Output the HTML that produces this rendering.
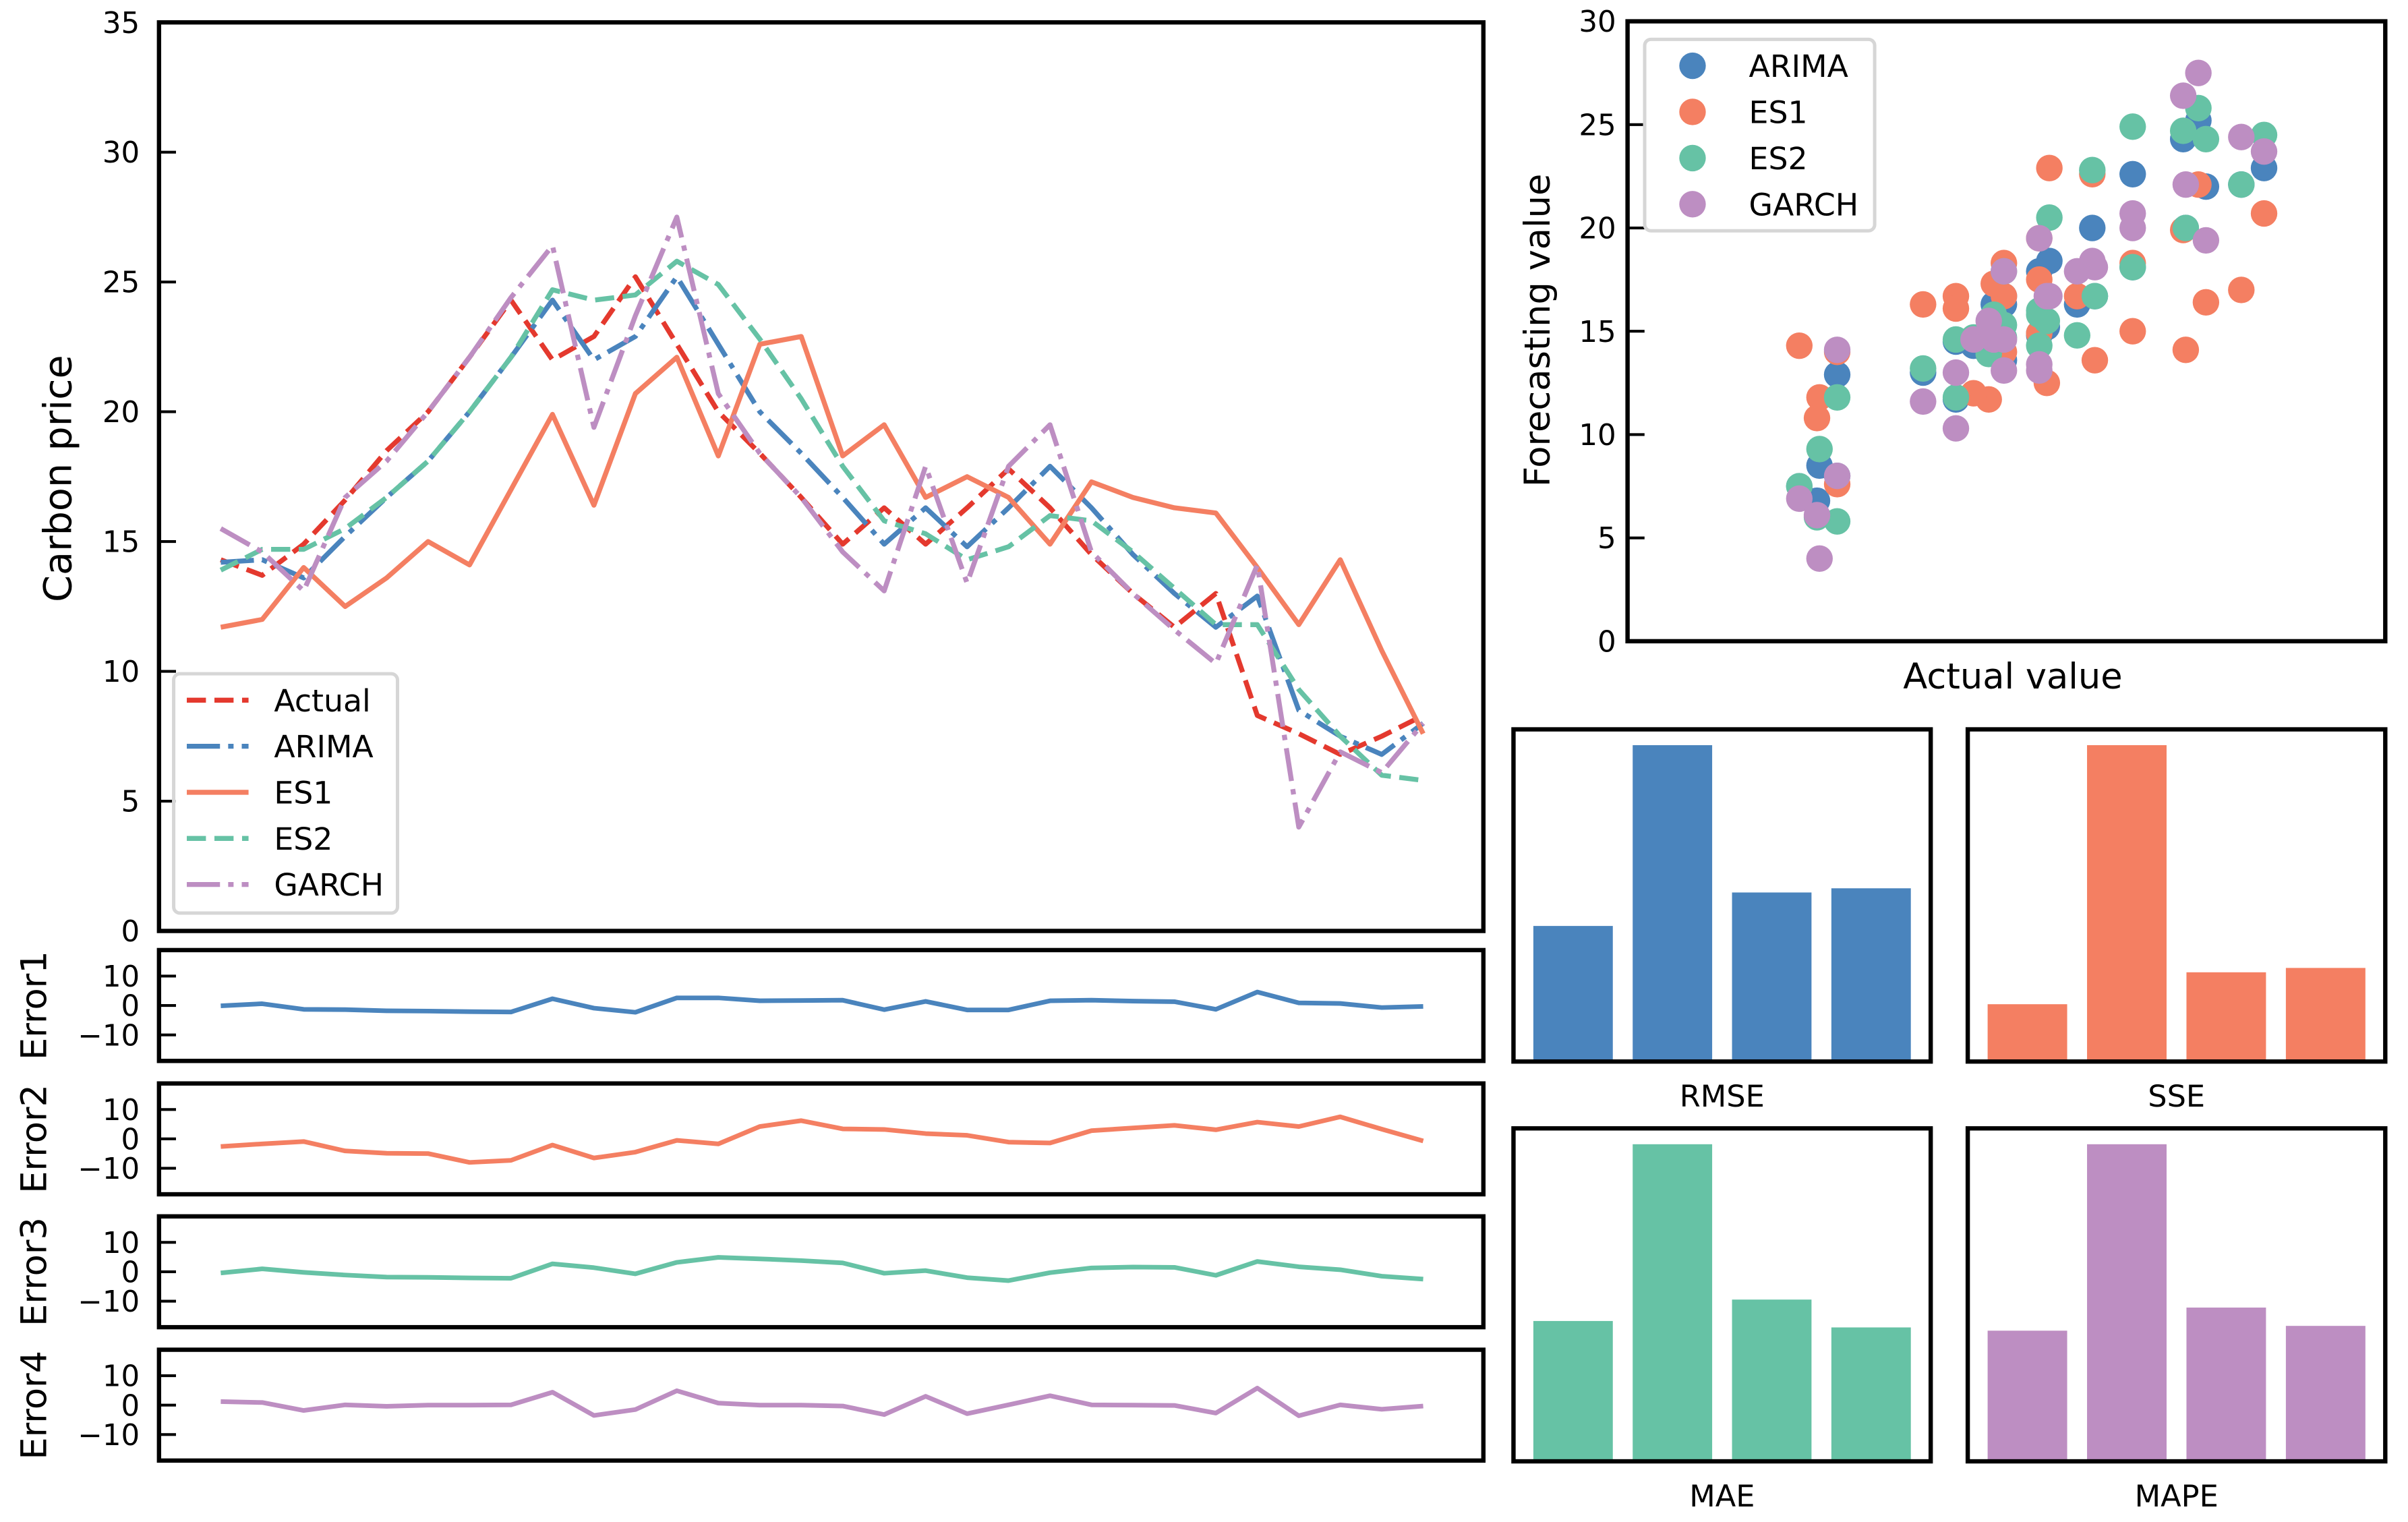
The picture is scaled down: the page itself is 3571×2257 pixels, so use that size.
<!DOCTYPE html>
<html><head><meta charset="utf-8"><style>
html,body{margin:0;padding:0;background:#fff;}
svg{display:block;font-family:"DejaVu Sans","Liberation Sans",sans-serif;}
</style></head><body>
<svg id="fig" xmlns="http://www.w3.org/2000/svg" width="3571" height="2257" viewBox="0 0 1560 986">
<rect x="0" y="0" width="1560" height="986" fill="#fff"/>
</svg>
<script>
// ---- data ----
const actual = [14.3,13.7,14.9,16.6,18.5,20.0,22.1,24.3,22.0,22.9,25.2,22.6,20.0,18.4,16.7,14.9,16.3,14.9,16.3,17.8,16.3,14.5,13.0,11.7,13.0,8.3,7.6,6.8,7.5,8.3];
const arima  = [14.2,14.3,13.6,15.2,16.7,18.1,20.0,22.1,24.3,22.0,22.9,25.2,22.6,20.0,18.4,16.7,14.9,16.3,14.8,16.3,17.9,16.3,14.5,13.0,11.7,12.9,8.5,7.5,6.8,8.0];
const es1    = [11.7,12.0,14.0,12.5,13.6,15.0,14.1,17.0,19.9,16.4,20.7,22.1,18.3,22.6,22.9,18.3,19.5,16.7,17.5,16.7,14.9,17.3,16.7,16.3,16.1,14.0,11.8,14.3,10.8,7.6];
const es2    = [13.9,14.7,14.7,15.5,16.7,18.1,20.0,22.1,24.7,24.3,24.5,25.8,24.9,22.8,20.5,17.9,15.8,15.3,14.3,14.8,16.0,15.8,14.6,13.2,11.8,11.8,9.3,7.5,6.0,5.8];
const garch  = [15.5,14.6,13.1,16.7,18.1,20.0,22.1,24.4,26.4,19.4,23.7,27.5,20.7,18.4,16.7,14.6,13.1,17.9,13.4,17.9,19.5,14.6,13.0,11.6,10.3,14.1,4.0,6.9,6.1,8.0];
const mainTicks = [0,5,10,15,20,25,30,35];
const errTicks = [10,0,-10];
const errTickLabels = ["10","0","\u221210"];
const scatterTicks = [0,5,10,15,20,25,30];
const rmseVals = [1.62,3.78,2.02,2.07];
const sseVals  = [79,436,123,129];
const maeVals  = [1.31,2.96,1.51,1.25];
const mapeVals = [8.2,19.9,9.65,8.5];

const NS="http://www.w3.org/2000/svg";
const svg=document.getElementById('fig');
const C={actual:"#e4392e",arima:"#4a84bd",es1:"#f47f62",es2:"#66c2a5",garch:"#bd8ec2"};
function mk(tag,attrs,parent){const e=document.createElementNS(NS,tag);for(const k in attrs)e.setAttribute(k,attrs[k]);(parent||svg).appendChild(e);return e;}
const F="DejaVu Sans, Liberation Sans, sans-serif";

// ---- main axes ----
const mL=103,mR=961,mT=14.5,mB=603.1;
const mx=i=>143+i*(922-143)/(actual.length-1);
const my=v=>mB-v*(mB-mT)/35;
function linePath(arr,fx,fy){return arr.map((v,i)=>(i?'L':'M')+fx(i).toFixed(2)+' '+fy(v).toFixed(2)).join(' ');}
const series=[
 {d:es1,c:C.es1,dash:null,n:'es1-line'},
 {d:actual,c:C.actual,dash:"12.4 5.5",n:'actual-line'},
 {d:arima,c:C.arima,dash:"21.5 5.3 3.5 5.3",n:'arima-line'},
 {d:es2,c:C.es2,dash:"12.4 5.5",n:'es2-line'},
 {d:garch,c:C.garch,dash:"21.5 5.3 3.5 5.3",n:'garch-line'}
];
const order=[1,2,0,3,4];
order.forEach(k=>{const s=series[k];
 const p=mk('path',{d:linePath(s.d,mx,my),fill:'none',stroke:s.c,'stroke-width':3.2,'stroke-linejoin':'round'});
 if(s.dash)p.setAttribute('stroke-dasharray',s.dash);
 
 
});
function frame(x1,y1,x2,y2,name){const r=mk('rect',{x:x1,y:y1,width:x2-x1,height:y2-y1,fill:'none',stroke:'#000','stroke-width':2.8});
 
 }
frame(mL,mT,mR,mB,'main-plot-frame');
mainTicks.forEach(v=>{
 const t=mk('line',{x1:mL,x2:mL+11,y1:my(v),y2:my(v),stroke:'#000','stroke-width':1.8});
 
 
 const l=mk('text',{x:90.5,y:my(v)+6.8,'text-anchor':'end','font-size':19,'font-family':F});
 l.textContent=String(v);
 
 
});
const yl=mk('text',{x:0,y:0,'text-anchor':'middle','font-size':25,'font-family':F,transform:'translate(46,310) rotate(-90)'});
yl.textContent='Carbon price';



// legend main
const lg=mk('rect',{x:112.5,y:436.5,width:145,height:155,rx:4,fill:'#fff','fill-opacity':0.8,stroke:'#d6d6d6','stroke-width':2.2});


const legItems=[['Actual',C.actual,"12.4 5.5"],['ARIMA',C.arima,"21.5 5.3 3.5 5.3"],['ES1',C.es1,null],['ES2',C.es2,"12.4 5.5"],['GARCH',C.garch,"21.5 5.3 3.5 5.3"]];
legItems.forEach((it,i)=>{const y=453.6+i*29.85;
 const ln=mk('line',{x1:121,x2:161,y1:y,y2:y,stroke:it[1],'stroke-width':3.2});
 if(it[2])ln.setAttribute('stroke-dasharray',it[2]);
 
 
 const tx=mk('text',{x:177.5,y:y+7.2,'font-size':20,'font-family':F});
 tx.textContent=it[0];
 
 
});

// ---- error panels ----
const errSeries=[[arima,C.arima],[es1,C.es1],[es2,C.es2],[garch,C.garch]];
const panelTops=[615.5,701.9,788,874.4];
errSeries.forEach((es,k)=>{
 const top=panelTops[k],bot=top+71.8,cy=top+35.9;
 const ey=v=>cy-v*1.905;
 const err=es[0].map((v,i)=>v-actual[i]);
 const p=mk('path',{d:linePath(err,mx,ey),fill:'none',stroke:es[1],'stroke-width':3.0,'stroke-linejoin':'round'});
 
 
 frame(mL,top,mR,bot,'error'+(k+1)+'-frame');
 errTicks.forEach((v,j)=>{
  const t=mk('line',{x1:mL,x2:mL+11,y1:ey(v),y2:ey(v),stroke:'#000','stroke-width':1.8});
  
  
  const l=mk('text',{x:90.5,y:ey(v)+6.8,'text-anchor':'end','font-size':19,'font-family':F});
  l.textContent=errTickLabels[j];
  
  
 });
 const lb=mk('text',{x:0,y:0,'text-anchor':'middle','font-size':23,'font-family':F,transform:'translate(30,'+cy+') rotate(-90)'});
 lb.textContent='Error'+(k+1);
 
 
});

// ---- scatter ----
const sL=1054.4,sR=1545.3,sT=13.8,sB=415.4;
const sx=v=>sL+v*(sR-sL)/30, sy=v=>sB-v*(sB-sT)/30;
[[arima,C.arima,'arima'],[es1,C.es1,'es1'],[es2,C.es2,'es2'],[garch,C.garch,'garch']].forEach(s=>{
 s[0].forEach((v,i)=>{
  const c=mk('circle',{cx:sx(actual[i]),cy:sy(v),r:8.6,fill:s[1]});
  
  
 });
});
frame(sL,sT,sR,sB,'scatter-frame');
scatterTicks.forEach(v=>{
 const t=mk('line',{x1:sL,x2:sL+11,y1:sy(v),y2:sy(v),stroke:'#000','stroke-width':1.8});
 
 
 const l=mk('text',{x:1047,y:sy(v)+6.8,'text-anchor':'end','font-size':19,'font-family':F});
 l.textContent=String(v);
 
 
});
const syl=mk('text',{x:0,y:0,'text-anchor':'middle','font-size':23,'font-family':F,transform:'translate(1004,214) rotate(-90)'});
syl.textContent='Forecasting value';


const sxl=mk('text',{x:1304,y:446,'text-anchor':'middle','font-size':23,'font-family':F});
sxl.textContent='Actual value';


const slg=mk('rect',{x:1065.5,y:25.5,width:149,height:124,rx:4,fill:'#fff','fill-opacity':0.8,stroke:'#d6d6d6','stroke-width':2.2});


[['ARIMA',C.arima],['ES1',C.es1],['ES2',C.es2],['GARCH',C.garch]].forEach((it,i)=>{const y=42.6+i*29.9;
 const c=mk('circle',{cx:1096.5,cy:y,r:8.6,fill:it[1]});
 
 
 const tx=mk('text',{x:1133,y:y+7.2,'font-size':20,'font-family':F});
 tx.textContent=it[0];
 
 
});

// ---- bar panels ----
const barPanels=[
 {v:rmseVals,c:C.arima,l:'RMSE',x1:980.5,x2:1250.8,t:472.5,b:687.7,ly:717},
 {v:sseVals,c:C.es1,l:'SSE',x1:1274.8,x2:1545.3,t:472.5,b:687.7,ly:717},
 {v:maeVals,c:C.es2,l:'MAE',x1:980.5,x2:1250.8,t:731,b:946.7,ly:976},
 {v:mapeVals,c:C.garch,l:'MAPE',x1:1274.8,x2:1545.3,t:731,b:946.7,ly:976}
];
barPanels.forEach(p=>{
 const n=p.v.length,u=(p.x2-p.x1)/(n+0.2),ymax=Math.max(...p.v)*1.05;
 const by=v=>p.b-v*(p.b-p.t)/ymax;
 p.v.forEach((v,i)=>{
  const cx=p.x1+(i+0.6)*u;
  const r=mk('rect',{x:cx-0.4*u,y:by(v),width:0.8*u,height:p.b-by(v),fill:p.c});
  
  
 });
 frame(p.x1,p.t,p.x2,p.b,p.l.toLowerCase()+'-frame');
 const tl=mk('text',{x:(p.x1+p.x2)/2,y:p.ly,'text-anchor':'middle','font-size':19.5,'font-family':F});
 tl.textContent=p.l;
 
 
});
</script>
</body></html>
